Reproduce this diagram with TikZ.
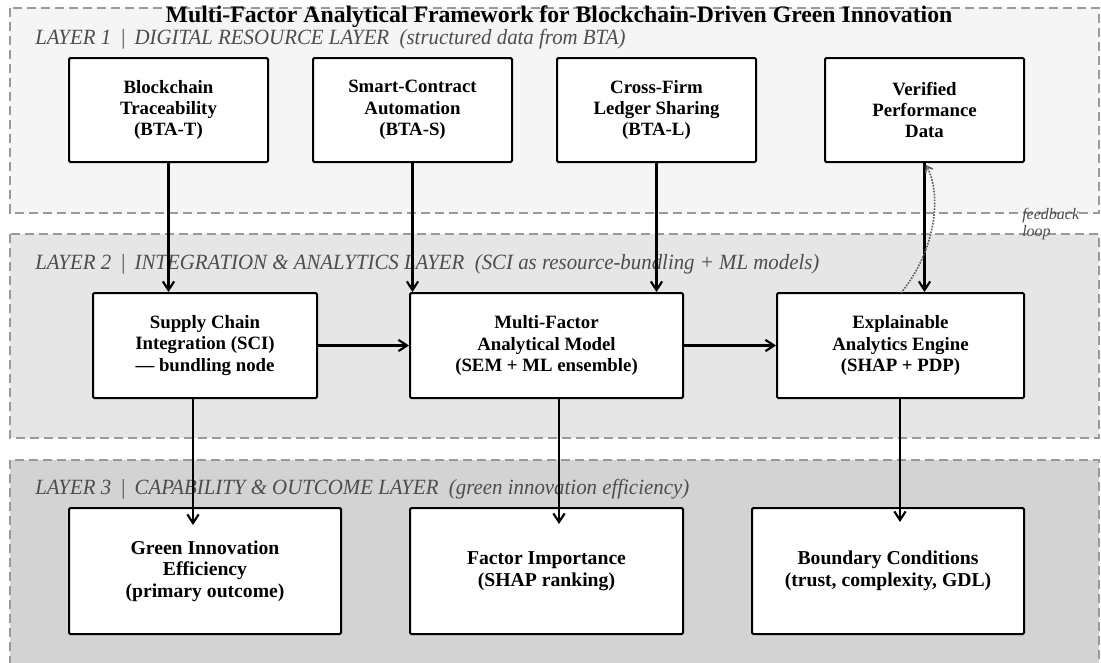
\documentclass[tikz,border=0pt]{standalone}
\usepackage{fontspec}
\setmainfont{Liberation Serif}
\newfontfamily\narrowfont[FakeStretch=0.96]{Liberation Serif}
\usetikzlibrary{arrows.meta}

\definecolor{layerA}{HTML}{F5F5F5}
\definecolor{layerB}{HTML}{E6E6E6}
\definecolor{layerC}{HTML}{D3D3D3}
\definecolor{layerline}{HTML}{9A9A9A}
\definecolor{labelgray}{HTML}{4D4D4D}

\begin{document}
\begin{tikzpicture}[x=0.75pt,y=-0.75pt,
  layer/.style={draw=layerline, dashed, dash pattern=on 7pt off 3.5pt, line width=1.5pt},
  layertext/.style={anchor=west, inner sep=0pt, text=labelgray, font=\narrowfont\itshape\fontsize{16.3}{18}\selectfont},
  box/.style 2 args={draw, line width=1.5pt, rounded corners=1pt, fill=white, align=center,
    inner sep=0pt, minimum width=#1*0.75pt, minimum height=#2*0.75pt,
    font=\bfseries\fontsize{14.1}{16}\selectfont},
  bigbox/.style={font=\bfseries\fontsize{14.75}{16.2}\selectfont},
  flow/.style={-{Straight Barb[length=6.5pt,width=8.5pt]}, line width=1.6pt},
  fbloop/.style={-{Straight Barb[length=4pt,width=6pt]}, densely dotted, line width=1.2pt, draw=black!65}]
\useasboundingbox (0,0) rectangle (1101,662);

% layers
\draw[layer, fill=layerA] (10,8) rectangle (1099,213);
\draw[layer, fill=layerB] (10,234) rectangle (1099,438);
\draw[layer, fill=layerC] (10,460) rectangle (1099,680);

\node[font=\bfseries\fontsize{17.8}{19}\selectfont] (title) at (559,16.5)
  {Multi-Factor Analytical Framework for Blockchain-Driven Green Innovation};
\node[layertext] (l1) at (35,39) {LAYER 1 \,|\, DIGITAL RESOURCE LAYER \ (structured data from BTA)};
\node[layertext] (l2) at (35,264) {LAYER 2 \,|\, INTEGRATION \& ANALYTICS LAYER \ (SCI as resource-bundling + ML models)};
\node[layertext] (l3) at (35,489) {LAYER 3 \,|\, CAPABILITY \& OUTCOME LAYER \ (green innovation efficiency)};

% layer 1
\node[box={199}{104}] (btat) at (168.5,110) {Blockchain\\Traceability\\(BTA-T)};
\node[box={199}{104}] (btas) at (412.5,110) {Smart-Contract\\Automation\\(BTA-S)};
\node[box={199}{104}] (btal) at (656.5,110) {Cross-Firm\\Ledger Sharing\\(BTA-L)};
\node[box={199}{104}] (vpd) at (924.5,110) {Verified\\Performance\\Data};

% layer 2
\node[box={224}{105}] (sci) at (205,345.5) {Supply Chain\\Integration (SCI)\\--- bundling node};
\node[box={273}{105}] (mfa) at (546.5,345.5) {Multi-Factor\\Analytical Model\\(SEM + ML ensemble)};
\node[box={247}{105}] (xai) at (900.5,345.5) {Explainable\\Analytics Engine\\(SHAP + PDP)};

% layer 3
\node[box={272}{126}, bigbox] (gie) at (205,571) {Green Innovation\\Efficiency\\(primary outcome)};
\node[box={273}{126}, bigbox] (fi) at (546.5,571) {Factor Importance\\(SHAP ranking)};
\node[box={272}{126}, bigbox] (bc) at (888,571) {Boundary Conditions\\(trust, complexity, GDL)};

% arrows
\draw[flow] (btat.south) -- (btat.south |- sci.north);
\draw[flow] (btas.south) -- (btas.south |- mfa.north);
\draw[flow] (btal.south) -- (btal.south |- mfa.north);
\draw[flow] (vpd.south) -- (vpd.south |- xai.north);
\draw[flow] (sci.east) -- (mfa.west);
\draw[flow] (mfa.east) -- (xai.west);

\coordinate (gietip) at (193,525);
\coordinate (fitip) at (559,524);
\coordinate (bctip) at (900,522);
\draw[flow] (sci.south -| gietip) -- (gietip);
\draw[flow] (mfa.south -| fitip) -- (fitip);
\draw[flow] (xai.south -| bctip) -- (bctip);

% feedback
\coordinate (fbstart) at (901,293);
\coordinate (fbend) at (926,165);
\draw[fbloop] (fbstart) .. controls (936,250) and (942,195) .. (fbend);
\node[anchor=west, align=left, inner sep=0pt, text=labelgray,
  font=\itshape\fontsize{12}{12.5}\selectfont] (fbtext) at (1022,224) {feedback\\loop};
\end{tikzpicture}
\end{document}
